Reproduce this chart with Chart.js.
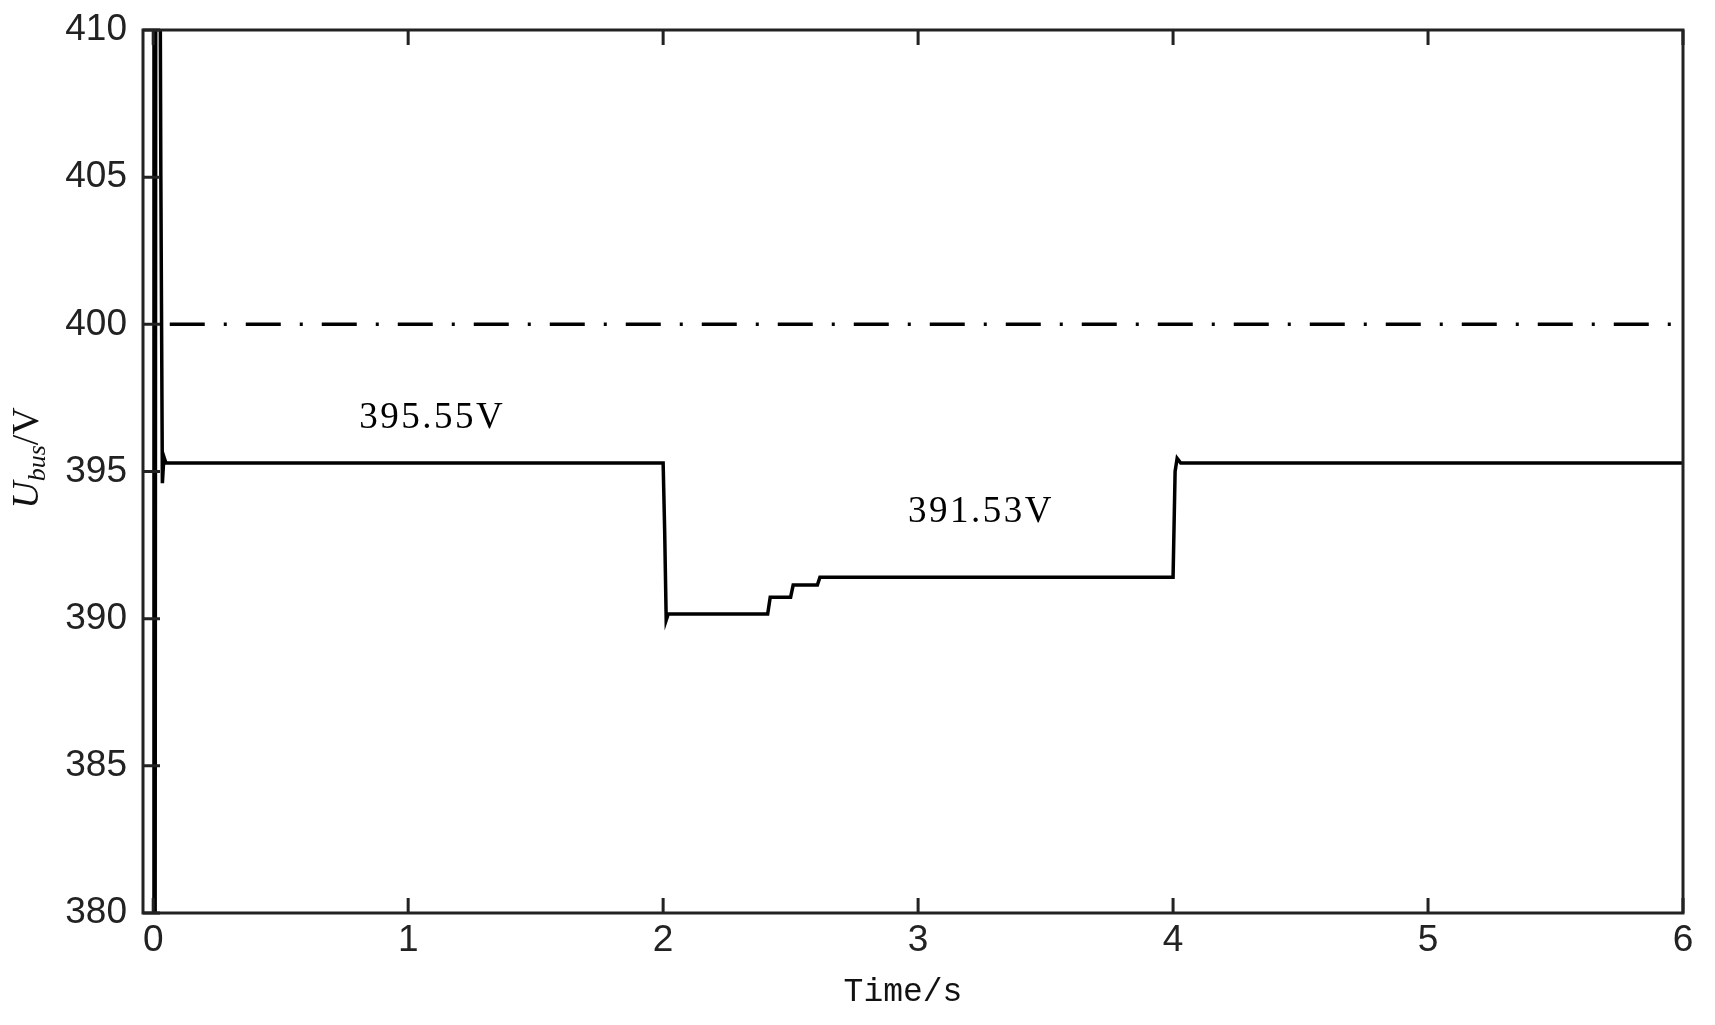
<!DOCTYPE html>
<html>
<head>
<meta charset="utf-8">
<script src="https://cdn.jsdelivr.net/npm/chart.js@4.4.1/dist/chart.umd.min.js"></script>
<style>
  html, body { margin: 0; padding: 0; background: #fff; }
  #wrap { width: 1715px; height: 1025px; }
</style>
</head>
<body>
<div id="wrap"><canvas id="busChart" width="1715" height="1025"></canvas></div>
<script>
// DC bus voltage vs time
const timeS = [0, 0.003, 0.007, 0.011, 0.016, 0.024, 0.030, 0.036, 0.042, 0.05,
  2.0, 2.006, 2.012, 2.02, 2.41, 2.42, 2.50, 2.51, 2.605, 2.615,
  4.0, 4.008, 4.016, 4.03, 6.0];
const busV = [372, 425, 372, 425, 425, 420, 405, 394.6, 395.5, 395.29,
  395.29, 393.0, 389.95, 390.16, 390.16, 390.73, 390.73, 391.14, 391.14, 391.41,
  391.41, 395.0, 395.45, 395.29, 395.29];

// reference voltage (dash-dot)
const refTime = [0.065, 6];
const refV = [400, 400];

const xTicks = [0, 1, 2, 3, 4, 5, 6];
const yTicks = [380, 385, 390, 395, 400, 405, 410];

// text notes on the plot
const noteText = ['395.55V', '391.53V'];
const noteT = [1.094, 3.247];
const noteV = [396.82, 393.62];

const axisColor = '#222';

const framePlugin = {
  id: 'frame',
  afterDraw(chart) {
    const ctx = chart.ctx;
    const a = chart.chartArea;
    const xs = chart.scales.x, ys = chart.scales.y;
    ctx.save();
    ctx.strokeStyle = axisColor;
    ctx.lineWidth = 3;
    ctx.strokeRect(a.left, a.top, a.right - a.left, a.bottom - a.top);
    // inward ticks: left, bottom and top
    ctx.beginPath();
    yTicks.forEach(v => {
      const y = ys.getPixelForValue(v);
      ctx.moveTo(a.left, y); ctx.lineTo(a.left + 17, y);
    });
    xTicks.forEach(v => {
      const x = xs.getPixelForValue(v);
      ctx.moveTo(x, a.bottom); ctx.lineTo(x, a.bottom - 15);
      ctx.moveTo(x, a.top); ctx.lineTo(x, a.top + 15);
    });
    ctx.stroke();

    // notes
    ctx.fillStyle = '#000';
    ctx.font = '37px "Liberation Serif"';
    ctx.letterSpacing = '2.5px';
    ctx.textAlign = 'center';
    ctx.textBaseline = 'middle';
    noteText.forEach((t, i) => {
      ctx.fillText(t, xs.getPixelForValue(noteT[i]), ys.getPixelForValue(noteV[i]));
    });
    ctx.letterSpacing = '0px';

    // x title
    ctx.fillStyle = '#111';
    ctx.font = '33px "Liberation Mono"';
    ctx.fillText('Time/s', 903, 992);

    // y title, rotated: U_bus/V
    ctx.translate(26, 458);
    ctx.rotate(-Math.PI / 2);
    ctx.textAlign = 'left';
    ctx.textBaseline = 'alphabetic';
    const fU = 'italic 38px "Liberation Serif"';
    const fSub = 'italic 26px "Liberation Serif"';
    const fV = '38px "Liberation Serif"';
    ctx.font = fU; const wU = ctx.measureText('U').width;
    ctx.font = fSub; const wS = ctx.measureText('bus').width;
    ctx.font = fV; const wV = ctx.measureText('/V').width;
    let x0 = -(wU + wS + wV) / 2;
    ctx.font = fU; ctx.fillText('U', x0, 12); x0 += wU;
    ctx.font = fSub; ctx.fillText('bus', x0, 19); x0 += wS;
    ctx.font = fV; ctx.fillText('/V', x0, 12);
    ctx.restore();
  }
};

const tickFont = { family: '"Liberation Sans", Arial', size: 37 };

new Chart(document.getElementById('busChart'), {
  type: 'line',
  data: {
    datasets: [
      {
        data: timeS.map((t, i) => ({ x: t, y: busV[i] })),
        borderColor: '#000',
        borderWidth: 3.5,
        pointRadius: 0,
        tension: 0
      },
      {
        data: refTime.map((t, i) => ({ x: t, y: refV[i] })),
        borderColor: '#000',
        borderWidth: 3.5,
        borderDash: [35, 19, 3, 19],
        pointRadius: 0
      }
    ]
  },
  options: {
    responsive: false,
    animation: false,
    devicePixelRatio: 1,
    layout: { padding: { left: 0, right: 32, top: 30, bottom: 0 } },
    plugins: { legend: { display: false }, tooltip: { enabled: false } },
    scales: {
      x: {
        type: 'linear',
        min: -0.04,
        max: 6,
        afterBuildTicks: s => { s.ticks = xTicks.map(v => ({ value: v })); },
        afterFit: s => { s.height = 112; s.paddingLeft = 0; s.paddingRight = 0; },
        grid: { display: false, drawTicks: false },
        border: { display: false },
        ticks: { padding: 6, autoSkip: false, maxRotation: 0, color: axisColor, font: tickFont }
      },
      y: {
        type: 'linear',
        min: 380,
        max: 410,
        afterBuildTicks: s => { s.ticks = yTicks.map(v => ({ value: v })); },
        afterFit: s => { s.width = 143; s.paddingTop = 0; s.paddingBottom = 0; },
        grid: { display: false, drawTicks: false },
        border: { display: false },
        ticks: { padding: 16, color: axisColor, font: tickFont }
      }
    }
  },
  plugins: [framePlugin]
});
</script>
</body>
</html>
